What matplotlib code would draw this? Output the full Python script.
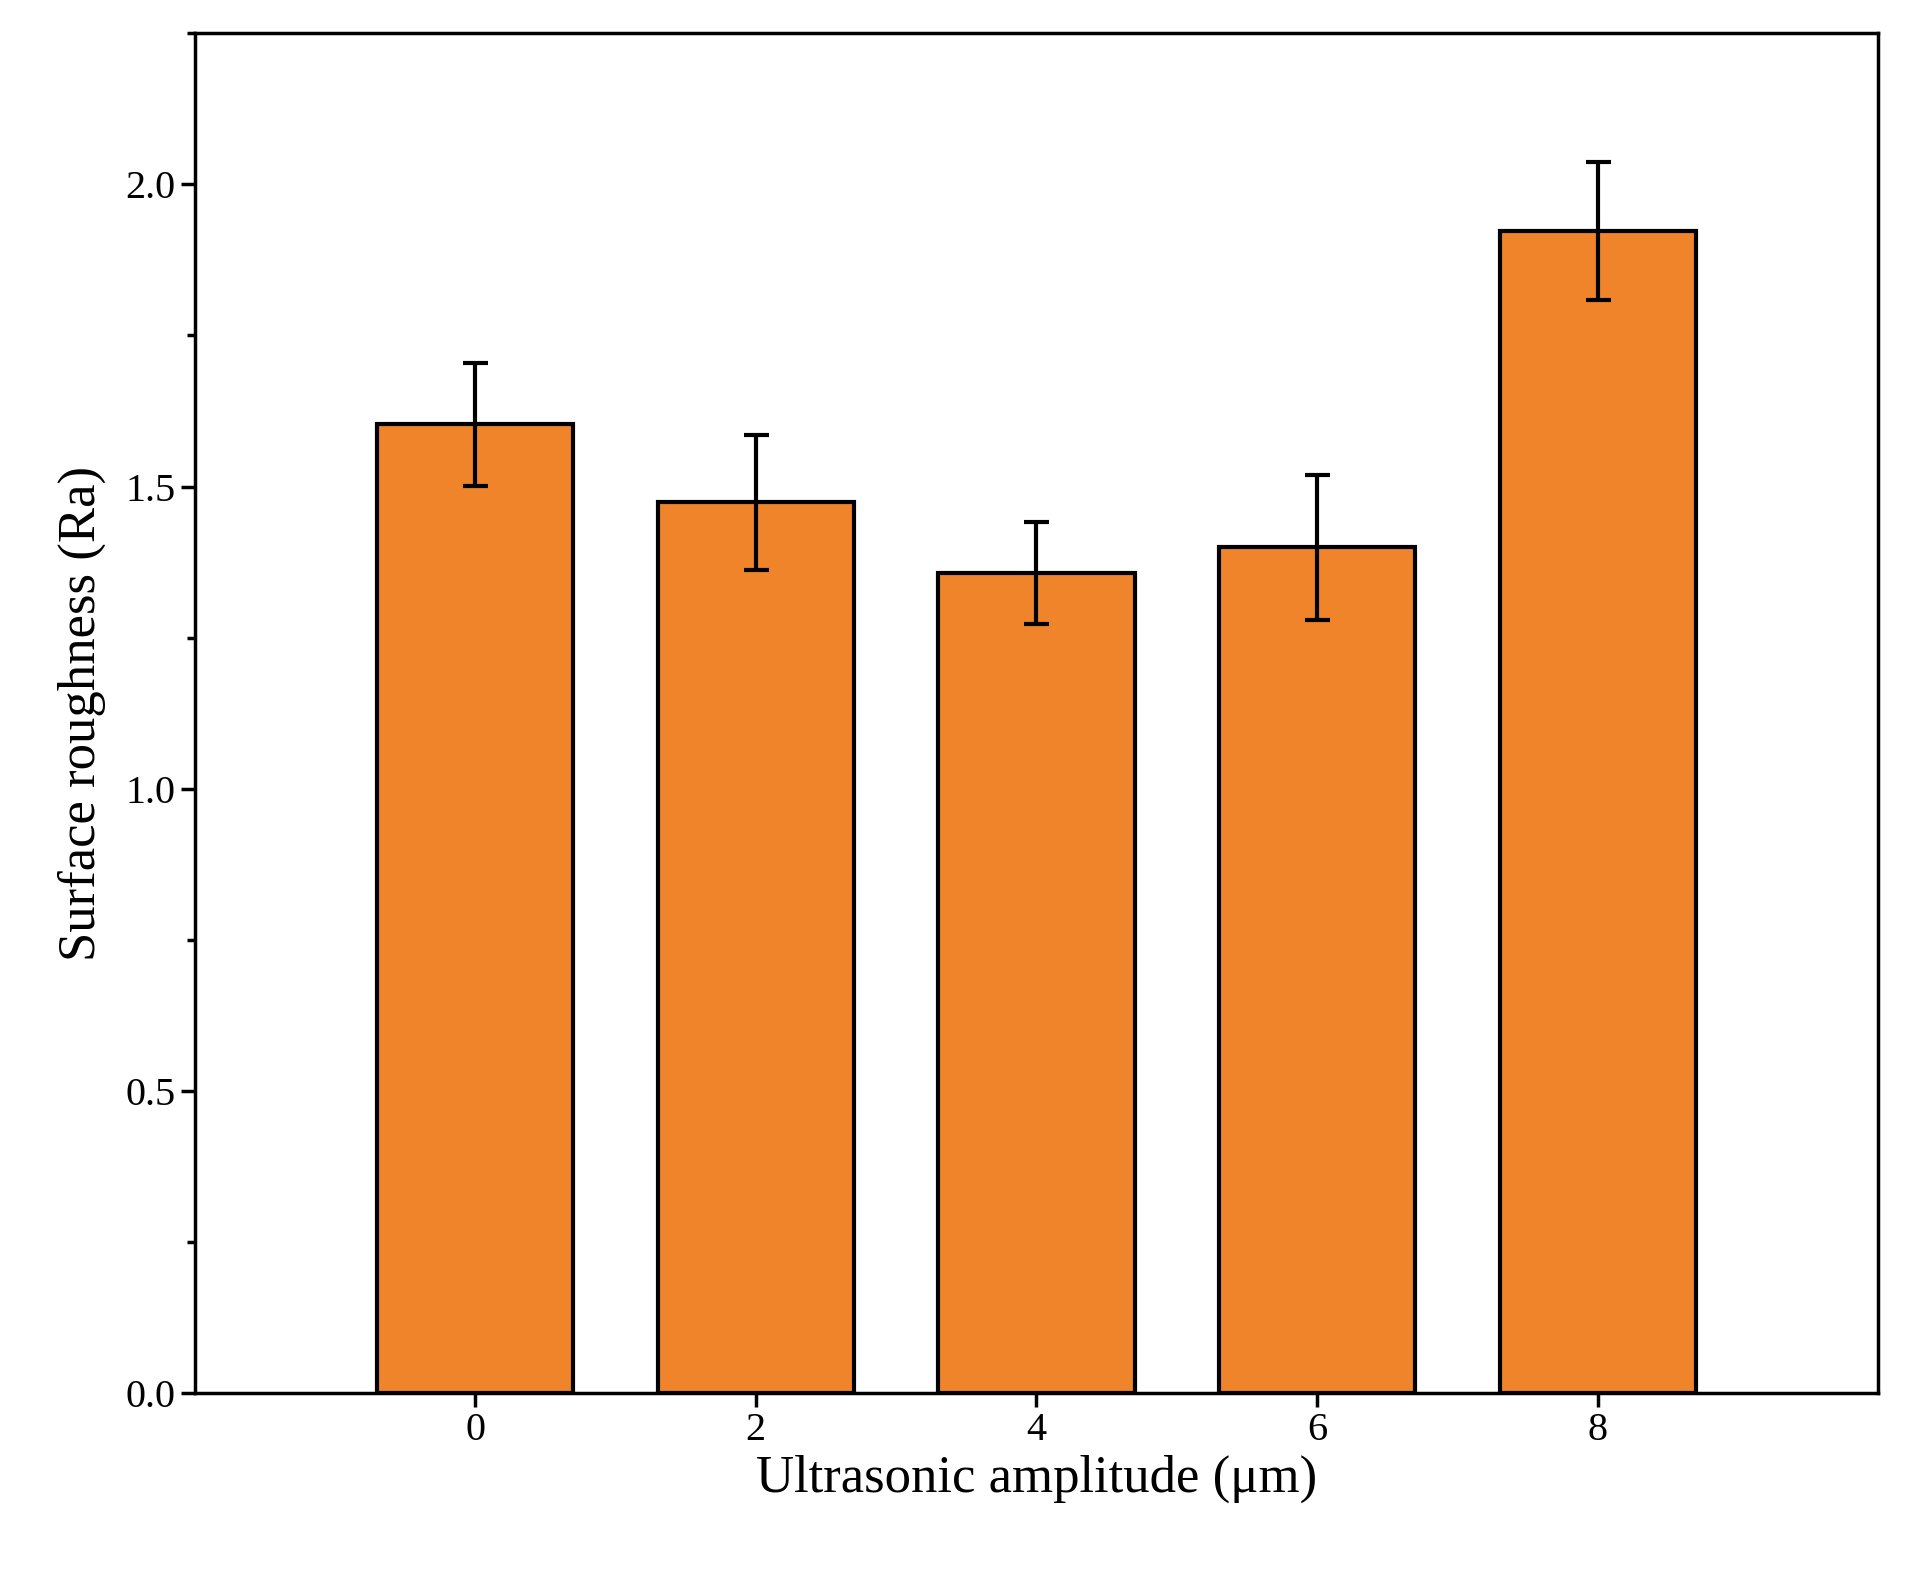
import matplotlib
matplotlib.use("Agg")
import matplotlib.pyplot as plt
from matplotlib.ticker import MultipleLocator

amplitude = [0, 2, 4, 6, 8]
roughness = [1.603, 1.474, 1.357, 1.400, 1.923]
errors = [0.102, 0.112, 0.085, 0.120, 0.114]

plt.rcParams['font.family'] = ['Liberation Serif', 'DejaVu Serif']

fig = plt.figure(figsize=(19.07, 15.85), dpi=100)
ax = fig.add_axes([0.102, 0.121, 0.883, 0.858])

ax.bar(amplitude, roughness, width=1.4, color='#EF842B', edgecolor='black',
       linewidth=3, zorder=2)
ax.errorbar(amplitude, roughness, yerr=errors, fmt='none', ecolor='black',
            elinewidth=3, capsize=9, capthick=3, zorder=3)

ax.set_xlim(-2, 10)
ax.set_ylim(0, 2.25)
ax.set_xticks(amplitude)
ax.yaxis.set_major_locator(MultipleLocator(0.5))
ax.yaxis.set_minor_locator(MultipleLocator(0.25))
ax.yaxis.set_major_formatter(matplotlib.ticker.FormatStrFormatter('%.1f'))
ax.tick_params(axis='both', which='major', labelsize=29, width=2.5, length=10)
ax.tick_params(axis='y', which='minor', width=2.5, length=6)
ax.tick_params(axis='x', which='minor', bottom=False)
for s in ax.spines.values():
    s.set_linewidth(2.5)

ax.set_xlabel('Ultrasonic amplitude (μm)', fontsize=38, labelpad=4)
ax.set_ylabel('Surface roughness (Ra)', fontsize=38, labelpad=14)

fig.savefig('out.png', dpi=100)
